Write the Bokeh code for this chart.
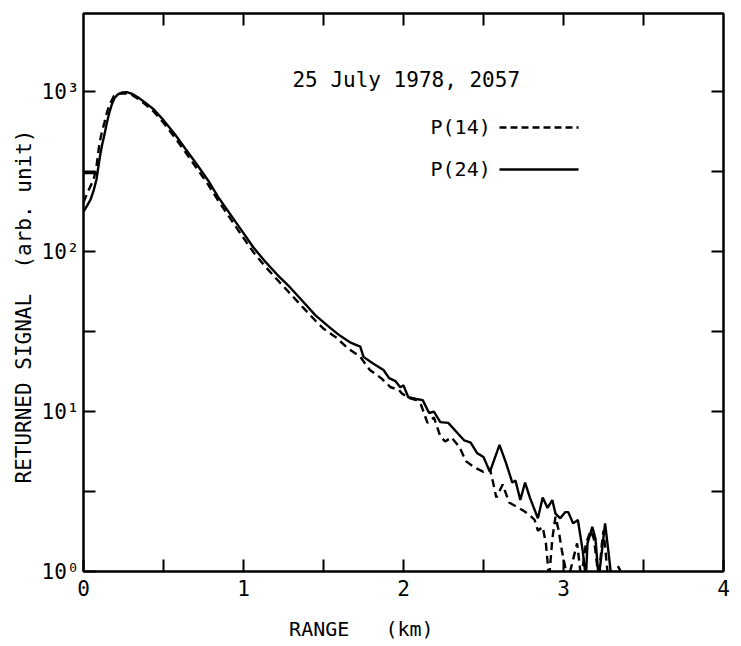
import math
from bokeh.plotting import figure
from bokeh.models import (Range1d, FixedTicker, LinearAxis, LogAxis, Label, Title,
                          CustomLabelingPolicy)
from bokeh.embed import file_html
from bokeh.resources import INLINE

nan = float("nan")
FONT = "DejaVu Sans Mono"

# ---------------- data ----------------
# P(24): solid curve, range in km, returned signal in arb. units
p24_km = [0.0, 0.085, nan,
          0.0, 0.02, 0.044, 0.065, 0.081, 0.092, 0.103, 0.117, 0.131, 0.146, 0.162,
          0.178, 0.194, 0.215, 0.24, 0.27, 0.30, 0.34, 0.39, 0.44, 0.50, 0.57, 0.64,
          0.71, 0.78, 0.84, 0.92, 0.99, 1.06, 1.13, 1.21, 1.29, 1.37, 1.45, 1.54,
          1.60, 1.67, 1.71, 1.73, 1.75, 1.81, 1.875, 1.91, 1.95, 1.98, 2.00, 2.03,
          2.08, 2.12, 2.16, 2.19, 2.23, 2.28, 2.34, 2.38, 2.42, 2.46, 2.50, 2.54,
          2.60, 2.64, 2.68, 2.70, 2.73, 2.76, 2.79, 2.84, 2.87, 2.90, 2.93, 2.95,
          2.98, 3.01, 3.03, 3.06, 3.09, 3.12, 3.14, 3.15, 3.18, 3.20, 3.22, 3.26,
          3.28, 3.30, nan, 3.34, 3.37]
p24_sig = [310, 310, nan,
           178, 192, 212, 245, 283, 335, 395, 470, 540, 640, 745,
           840, 915, 965, 990, 995, 975, 925, 850, 776, 665, 545, 436,
           350, 278, 221, 170, 135, 107, 88, 72, 60, 49, 40, 33.5,
           30, 27, 26, 25.5, 22, 20, 18.2, 16.2, 15.5, 14.2, 14.6, 12.3,
           12.0, 11.8, 9.8, 10.0, 8.6, 8.5, 7.3, 6.6, 6.4, 5.5, 5.2, 4.2,
           6.2, 4.8, 3.6, 3.7, 2.8, 3.6, 2.9, 2.15, 2.9, 2.5, 2.8, 2.3,
           2.15, 2.35, 2.35, 2.0, 2.1, 1.35, 0.9, 1.5, 1.9, 1.6, 0.9, 2.0,
           1.35, 0.9, nan, 1.08, 0.95]

# P(14): dashed curve
p14_km = [0.0, 0.006, 0.03, 0.063, 0.081, 0.10, 0.115, 0.131, 0.146, 0.162, 0.19,
          0.22, 0.26, 0.30, 0.34, 0.39, 0.44, 0.50, 0.57, 0.64, 0.71, 0.78, 0.84,
          0.92, 0.99, 1.06, 1.13, 1.21, 1.29, 1.37, 1.45, 1.50, 1.575, 1.65, 1.73,
          1.79, 1.86, 1.92, 1.97, 1.99, 2.03, 2.08, 2.11, 2.15, 2.19, 2.23, 2.26,
          2.30, 2.35, 2.39, 2.44, 2.50, 2.54, 2.56, 2.58, 2.62, 2.66, 2.72, 2.75,
          2.79, 2.82, 2.84, 2.87, 2.89, 2.91, 2.93, 2.95, 2.97, 2.99, 3.01, 3.03,
          3.085, 3.10, 3.11, 3.14, 3.17, 3.19, 3.22, 3.24, 3.25, 3.27, 3.28]
p14_sig = [203, 211, 240, 283, 340, 480, 560, 645, 740, 830, 940,
           975, 980, 960, 905, 830, 750, 640, 520, 415, 330, 262, 210,
           160, 126, 100, 82, 67, 55, 45, 37, 33, 29.3, 25, 22,
           18.2, 16.2, 14.2, 13.7, 13.0, 12.2, 11.8, 11.0, 8.5, 9.2, 7.0, 6.5,
           6.9, 6.0, 4.9, 4.5, 4.2, 4.4, 3.6, 2.9, 3.5, 2.7, 2.5, 2.4,
           2.25, 2.1, 1.8, 1.9, 1.5, 0.9, 1.6, 2.2, 1.8, 1.35, 1.07, 0.9,
           1.5, 1.12, 0.9, 1.5, 1.8, 1.6, 0.9, 1.5, 1.8, 1.12, 0.9]

# ticks
x_major = [0, 1, 2, 3, 4]
x_minor = [0.5, 1.5, 2.5, 3.5]
x_top = [0.5, 1.0, 1.5, 2.0, 2.5, 3.0, 3.5]
y_major = [1, 10, 100, 1000]
y_major_labels = ["10\u2070", "10\u00b9", "10\u00b2", "10\u00b3"]
y_minor = [10 ** 0.5, 10 ** 1.5, 10 ** 2.5]
y_right = [10 ** 0.5, 10, 10 ** 1.5, 100, 10 ** 2.5, 1000]

NB = "\u00a0"
title_text = "25 July 1978, 2057"
series_names = ["P(14)", "P(24)"]
# trailing no-break spaces shift the centred label left, as in the original
x_label = "RANGE" + NB * 3 + "(km)" + NB * 7
y_label = "RETURNED SIGNAL" + NB * 2 + "(arb. unit)"

# ---------------- figure ----------------
p = figure(width=741, height=646, output_backend="svg", toolbar_location=None,
           x_range=Range1d(0, 4), y_range=Range1d(1, 10 ** 3.49), y_axis_type="log",
           min_border_left=83, min_border_right=18, min_border_top=13,
           min_border_bottom=75)
p.background_fill_color = "white"
p.border_fill_color = "white"
p.grid.visible = False
p.outline_line_color = "black"
p.outline_line_width = 2

no_labels = CustomLabelingPolicy(code="return new Set()")


def style_axis(ax, show_labels=True):
    ax.axis_line_color = "black"
    ax.axis_line_width = 2
    ax.major_tick_line_color = "black"
    ax.major_tick_line_width = 2
    ax.minor_tick_line_color = "black"
    ax.minor_tick_line_width = 2
    ax.major_tick_in = 12
    ax.major_tick_out = 0
    ax.minor_tick_in = 12
    ax.minor_tick_out = 0
    ax.major_label_text_font = FONT
    ax.major_label_text_color = "black"
    if show_labels:
        ax.major_label_text_font_size = "21px"
    else:
        ax.major_label_text_font_size = "0px"
        ax.major_label_standoff = 0
        ax.major_label_policy = no_labels


xa = p.xaxis[0]
xa.ticker = FixedTicker(ticks=x_major, minor_ticks=x_minor)
style_axis(xa)
xa.major_label_standoff = 8
xa.axis_label = x_label
xa.axis_label_text_font = FONT
xa.axis_label_text_font_size = "20px"
xa.axis_label_text_font_style = "normal"
xa.axis_label_text_color = "black"
xa.axis_label_standoff = 18

ya = p.yaxis[0]
ya.ticker = FixedTicker(ticks=y_major, minor_ticks=y_minor)
ya.major_label_overrides = dict(zip(y_major, y_major_labels))
style_axis(ya)
ya.major_label_standoff = 4

top = LinearAxis(ticker=FixedTicker(ticks=x_top))
style_axis(top, show_labels=False)
p.add_layout(top, "above")

right = LogAxis(ticker=FixedTicker(ticks=y_right))
style_axis(right, show_labels=False)
p.add_layout(right, "right")

# y axis title
p.add_layout(Title(text=y_label, text_font=FONT, text_font_size="21px",
                   text_font_style="normal", text_color="black",
                   align="left", offset=88, standoff=6), "left")

# ---------------- curves ----------------
p.line(p14_km, p14_sig, line_color="black", line_width=2.4, line_dash="8 5")
p.line(p24_km, p24_sig, line_color="black", line_width=2.4)

# ---------------- legend (text left, key right) ----------------
p.line([2.60, 3.094], [599, 599], line_color="black", line_width=2.4, line_dash="7 4")
p.line([2.60, 3.094], [327, 327], line_color="black", line_width=2.4)
for name, yv in zip(series_names, [599, 327]):
    p.add_layout(Label(x=2.169, y=yv, text=name, text_font=FONT,
                       text_font_size="20px", text_align="left",
                       text_baseline="middle", text_color="black"))

p.add_layout(Label(x=1.306, y=1186, text=title_text, text_font=FONT,
                   text_font_size="21px", text_align="left",
                   text_baseline="middle", text_color="black"))

open("out.html", "w").write(file_html(p, INLINE))
